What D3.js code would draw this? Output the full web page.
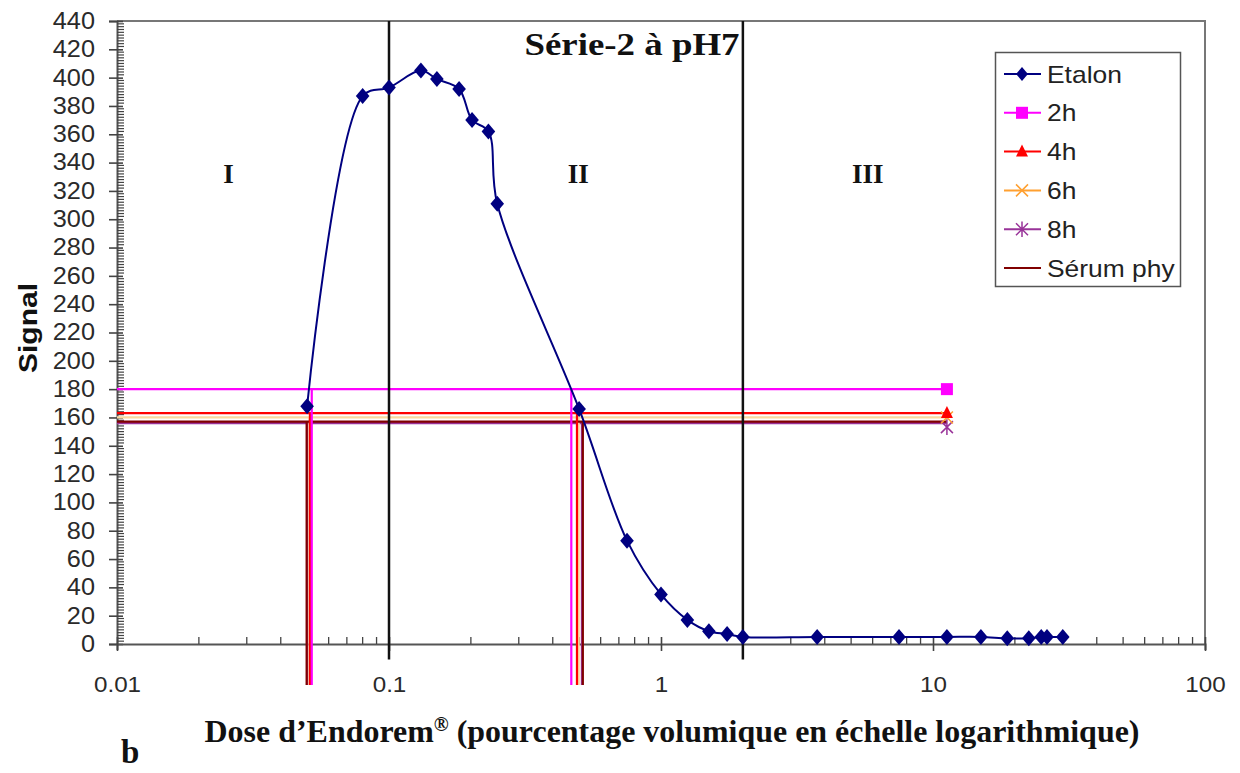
<!DOCTYPE html>
<html><head><meta charset="utf-8">
<script src="https://cdn.jsdelivr.net/npm/d3@7"></script>
<style>body{margin:0;background:#fff}</style></head>
<body><svg id="c" width="1240" height="773"></svg>
<script>
// ---- data ----
const etalonDose   = [0.05,0.08,0.1,0.131,0.15,0.181,0.202,0.232,0.25,0.5,0.75,1.0,1.25,1.5,1.75,2.0,3.75,7.5,11.25,15,18.75,22.5,25,26.25,30];
const etalonSignal = [168,387,393,405,399,392,370,362,311,166,73,35,17,9,7,5,5,5,5,5,4,4,5,5,5];
const refNames     = ["2h","4h","6h","8h","Sérum phy"];
const refLevels    = [180,163,160,156,157];
const refLeftDose  = [0.0520,0.0512,0.0510,0.0500,0.0498];
const refRightDose = [0.468,0.491,0.498,0.512,0.516];
const refMarkerDose = 11.25;
const dropSignal   = -29;      // vertical drop lines go below the axis
const regionBounds = [0.1, 2];
const regionBottom = -11;
const regionLabels = ["I","II","III"];
const regionLabelDose = [0.0257, 0.496, 5.76];
const regionLabelSignal = 330;
const xTicks = [0.01,0.1,1,10,100];
const xTickLabels = ["0.01","0.1","1","10","100"];
const yTicks = d3.range(0,441,20);

// ---- layout ----
const svg = d3.select("#c");
const x = d3.scaleLog().domain([0.01,100]).range([117,1205]);
const y = d3.scaleLinear().domain([0,440]).range([644,21]);
const colors = {"Etalon":"#000080","2h":"#FF00FF","4h":"#FF0000","6h":"#F9D9A0","8h":"#993399","Sérum phy":"#800000"};
const legendColors = {"Etalon":"#000080","2h":"#FF00FF","4h":"#FF0000","6h":"#FFA030","8h":"#993399","Sérum phy":"#800000"};
const SANS = "Liberation Sans, Arial, sans-serif";
const SERIF = "Liberation Serif, Times New Roman, serif";
function widen(sel, f){ sel.each(function(){ const L=this.getComputedTextLength(); d3.select(this).attr("textLength",L*f).attr("lengthAdjust","spacingAndGlyphs"); }); }

// plot border (top/right)
svg.append("path").attr("d",`M${x(0.01)},${y(440)}H${x(100)}V${y(0)}`)
  .attr("fill","none").attr("stroke","#777").attr("stroke-width",2);

// y axis
const yAxisG = svg.append("g").attr("transform",`translate(${x(0.01)},0)`);
yAxisG.call(d3.axisLeft(y).tickValues(yTicks).tickSize(8).tickPadding(14).tickFormat(d3.format("d")));
yAxisG.select(".domain").attr("stroke","#555").attr("stroke-width",2);
yAxisG.selectAll(".tick line").attr("stroke","#444").attr("stroke-width",1.6).attr("x2",-8).attr("x1",6);
yAxisG.selectAll("text").attr("font-family",SANS).attr("font-size",23).attr("fill","#2a2a2a");
widen(yAxisG.selectAll("text"),1.1);
// minor y ticks
svg.append("g").attr("class","yminor").selectAll("line").data(d3.range(0,441,2).filter(v=>v%20!==0)).join("line")
  .attr("x1",x(0.01)).attr("x2",x(0.01)+7).attr("y1",d=>y(d)).attr("y2",d=>y(d))
  .attr("stroke","#444").attr("stroke-width",1.2);

// x axis
const xAxisG = svg.append("g").attr("transform",`translate(0,${y(0)})`);
xAxisG.call(d3.axisBottom(x).tickValues(xTicks).tickSize(6).tickPadding(26).tickFormat((d,i)=>xTickLabels[i]));
xAxisG.select(".domain").attr("stroke","#555").attr("stroke-width",2);
xAxisG.selectAll(".tick line").attr("stroke","#444").attr("stroke-width",1.6).attr("y1",-7).attr("y2",7);
xAxisG.selectAll("text").attr("font-family",SANS).attr("font-size",22).attr("fill","#2a2a2a");
widen(xAxisG.selectAll("text"),1.1);
const minorX = [];
[0.01,0.1,1,10].forEach(dec=>{for(let k=2;k<10;k++) minorX.push(dec*k);});
svg.append("g").attr("class","xminor").selectAll("line").data(minorX).join("line")
  .attr("x1",d=>x(d)).attr("x2",d=>x(d)).attr("y1",y(0)).attr("y2",y(0)-7)
  .attr("stroke","#444").attr("stroke-width",1.3);

// reference series: horizontal + vertical drops
const drawOrder = [3,2,4,1,0];
drawOrder.forEach(i=>{
  const c = colors[refNames[i]];
  const g = svg.append("g");
  g.append("line").attr("x1",x(0.01)).attr("x2",x(refMarkerDose))
    .attr("y1",y(refLevels[i])).attr("y2",y(refLevels[i])).attr("stroke",c).attr("stroke-width",2.2);
  [refLeftDose[i],refRightDose[i]].forEach(d=>{
    g.append("line").attr("x1",x(d)).attr("x2",x(d))
      .attr("y1",y(refLevels[i])).attr("y2",y(dropSignal)).attr("stroke",c).attr("stroke-width",2.2);
  });
});

// region dividers
svg.append("g").selectAll("line").data(regionBounds).join("line")
  .attr("x1",d=>x(d)).attr("x2",d=>x(d)).attr("y1",y(440)).attr("y2",y(regionBottom))
  .attr("stroke","#111").attr("stroke-width",2.5);

// region labels
svg.append("g").selectAll("text").data(regionLabels).join("text")
  .attr("x",(d,i)=>x(regionLabelDose[i])).attr("y",y(regionLabelSignal))
  .attr("text-anchor","middle").attr("dominant-baseline","middle")
  .attr("font-family",SERIF).attr("font-weight","bold")
  .attr("font-size",27).attr("fill","#111").text(d=>d);

// Etalon series
const pts = etalonDose.map((d,i)=>[x(d),y(etalonSignal[i])]);
svg.append("path").attr("d",d3.line().curve(d3.curveCatmullRom.alpha(0.5))(pts))
  .attr("fill","none").attr("stroke","#000080").attr("stroke-width",2);
const diamond = s => `M0,${-s}L${s*0.85},0L0,${s}L${-s*0.85},0Z`;
svg.append("g").selectAll("path").data(pts).join("path")
  .attr("transform",d=>`translate(${d[0]},${d[1]})`).attr("d",diamond(8)).attr("fill","#000080");

// markers for reference series
function marker(sel, name, size){
  const c = legendColors[name];
  if(name==="2h") sel.append("rect").attr("x",-size).attr("y",-size).attr("width",2*size).attr("height",2*size).attr("fill","#FF00FF");
  else if(name==="4h") sel.append("path").attr("d",`M0,${-size*1.2}L${size},${size*0.8}L${-size},${size*0.8}Z`).attr("fill","#FF0000");
  else if(name==="6h") sel.append("path").attr("d",`M${-size},${-size}L${size},${size}M${size},${-size}L${-size},${size}`).attr("stroke",c).attr("stroke-width",1.5);
  else if(name==="8h") sel.append("path").attr("d",`M${-size},${-size}L${size},${size}M${size},${-size}L${-size},${size}M0,${-size*1.3}V${size*1.3}`).attr("stroke",c).attr("stroke-width",1.5);
}
[3,2,1,0].forEach(i=>{
  const g = svg.append("g").attr("transform",`translate(${x(refMarkerDose)},${y(refLevels[i]) + (refNames[i]==="8h"?4:0)})`);
  marker(g, refNames[i], 6);
});

// legend
const legNames = ["Etalon"].concat(refNames);
const lg = svg.append("g");
lg.append("rect").attr("x",995.5).attr("y",52.5).attr("width",185).attr("height",234)
  .attr("fill","#fff").attr("stroke","#555").attr("stroke-width",1.5);
legNames.forEach((n,i)=>{
  const yy = 74 + i*38.8;
  const c = legendColors[n];
  lg.append("line").attr("x1",1004).attr("x2",1041).attr("y1",yy).attr("y2",yy).attr("stroke",c).attr("stroke-width",2);
  const mg = lg.append("g").attr("transform",`translate(1022,${yy})`);
  if(n==="Etalon") mg.append("path").attr("d",diamond(7)).attr("fill","#000080");
  else marker(mg, n, 6);
  const t = lg.append("text").attr("x",1047).attr("y",yy).attr("dominant-baseline","central")
    .attr("font-family",SANS).attr("font-size",24).attr("fill","#222").text(n);
  widen(t,1.1);
});

// title
svg.append("text").attr("x",632).attr("y",55).attr("text-anchor","middle")
  .attr("textLength",215).attr("lengthAdjust","spacingAndGlyphs")
  .attr("font-family",SERIF).attr("font-weight","bold")
  .attr("font-size",31).attr("fill","#111").text("Série-2 à pH7");

// axis titles
svg.append("text").attr("transform","translate(37,328) rotate(-90)").attr("text-anchor","middle")
  .attr("textLength",90).attr("lengthAdjust","spacingAndGlyphs")
  .attr("font-family",SANS).attr("font-weight","bold")
  .attr("font-size",25).attr("fill","#111").text("Signal");
const xt = svg.append("text").attr("x",672).attr("y",742).attr("text-anchor","middle")
  .attr("textLength",935).attr("lengthAdjust","spacingAndGlyphs")
  .attr("font-family",SERIF).attr("font-weight","bold")
  .attr("font-size",32).attr("fill","#111");
xt.append("tspan").text("Dose d’Endorem");
xt.append("tspan").attr("font-size",20).attr("dy",-11).text("®");
xt.append("tspan").attr("dy",11).text(" (pourcentage volumique en échelle logarithmique)");
svg.append("text").attr("x",121).attr("y",763)
  .attr("font-family",SERIF).attr("font-weight","bold")
  .attr("font-size",33).attr("fill","#111").text("b");
</script></body></html>
